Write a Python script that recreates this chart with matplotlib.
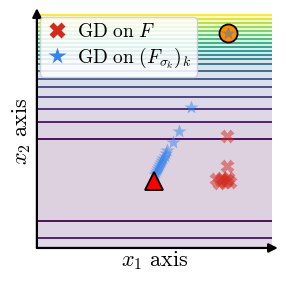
import numpy as np
import matplotlib
matplotlib.use("Agg")
import matplotlib.pyplot as plt
from matplotlib.lines import Line2D

plt.rcParams['mathtext.fontset'] = 'cm'
plt.rcParams['font.family'] = ['cmr10', 'DejaVu Serif']
plt.rcParams['axes.formatter.use_mathtext'] = True

# ---- data ----
x2_center = 0.2906
upper_level_x2 = [0.4645, 0.5385, 0.5953, 0.6432, 0.6859, 0.7235, 0.7585, 0.7863,
                  0.8056, 0.8261, 0.8432, 0.8603, 0.8774, 0.8944, 0.9115, 0.9286,
                  0.9457, 0.9628, 0.9799, 0.9970]

gd_F_x1 = [0.8085, 0.8085, 0.7617, 0.7745, 0.7872, 0.8000, 0.8128, 0.8213, 0.7830, 0.8085]
gd_F_x2 = [0.4786, 0.3504, 0.2949, 0.2778, 0.2991, 0.2821, 0.2991, 0.2821, 0.2906, 0.2906]

gd_s_x1 = [0.502, 0.506, 0.511, 0.515, 0.519, 0.523, 0.528, 0.532, 0.536, 0.543,
           0.549, 0.554, 0.577, 0.604, 0.654]
gd_s_x2 = [0.316, 0.325, 0.333, 0.342, 0.350, 0.359, 0.368, 0.376, 0.385, 0.395,
           0.406, 0.419, 0.452, 0.501, 0.604]

start_point = (0.498, 0.286)
optimum_point = (0.8128, 0.9188)

legend_labels = [r'$\mathrm{GD\ on\ }F$', r'$\mathrm{GD\ on\ }(F_{\sigma_k})_k$']
xlabel = r'$x_1\ \mathrm{axis}$'
ylabel = r'$x_2\ \mathrm{axis}$'

red = '#d42a1c'
blue = '#3584ec'

# ---- figure ----
fig = plt.figure(figsize=(2.86, 2.86), dpi=100)
ax = fig.add_axes([0.129, 0.133, 0.822, 0.818])

x1 = np.linspace(0, 1, 40)
x2 = np.linspace(0, 1, 1200)
X1, X2 = np.meshgrid(x1, x2)
Z = np.abs(X2 - x2_center)

levels = [lv - x2_center for lv in upper_level_x2]
n = len(levels)
line_cols = plt.cm.viridis(np.linspace(0, 1, n))
fill_levels = [0.0] + levels + [1.0]
fill_cols = plt.cm.viridis(np.linspace(0, 1, n + 1))
ax.contourf(X1, X2, Z, levels=fill_levels, colors=fill_cols, alpha=0.18)
ax.contour(X1, X2, Z, levels=levels, colors=line_cols, linewidths=1.3)

ax.plot(gd_F_x1, gd_F_x2, linestyle='none', marker='X', ms=9.5, color=red,
        alpha=0.5, mec='none', zorder=3)
ax.plot(gd_s_x1, gd_s_x2, linestyle='none', marker='*', ms=10.5, color=blue,
        alpha=0.5, mec='none', zorder=3)
ax.plot(*start_point, marker='^', ms=13, color='red', mec='black', mew=1.3, zorder=5)
ax.plot(*optimum_point, marker='o', ms=13, color='darkorange', mec='black', mew=1.3, zorder=5)
ax.plot(*optimum_point, marker='*', ms=10, color='gray', alpha=0.8, mec='none', zorder=6)

ax.set_xlim(0, 1)
ax.set_ylim(0, 1)
ax.set_xticks([])
ax.set_yticks([])
for s in ax.spines.values():
    s.set_visible(False)

ax.annotate('', xy=(1.025, 0), xytext=(0, 0), xycoords='axes fraction',
            arrowprops=dict(arrowstyle='-|>', lw=1.6, color='k', mutation_scale=13,
                            shrinkA=0, shrinkB=0))
ax.annotate('', xy=(0, 1.025), xytext=(0, 0), xycoords='axes fraction',
            arrowprops=dict(arrowstyle='-|>', lw=1.6, color='k', mutation_scale=13,
                            shrinkA=0, shrinkB=0))

ax.set_xlabel(xlabel, fontsize=16, labelpad=1)
ax.set_ylabel(ylabel, fontsize=16, labelpad=3)

handles = [Line2D([], [], linestyle='none', marker='X', ms=11, color=red, mec='none'),
           Line2D([], [], linestyle='none', marker='*', ms=13, color=blue, mec='none')]
ax.legend(handles, legend_labels, loc='upper left', fontsize=14, framealpha=0.85,
          handletextpad=0.4, borderaxespad=0.15, borderpad=0.3, labelspacing=0.25,
          handlelength=1.2)

fig.savefig('out.png', dpi=100)
